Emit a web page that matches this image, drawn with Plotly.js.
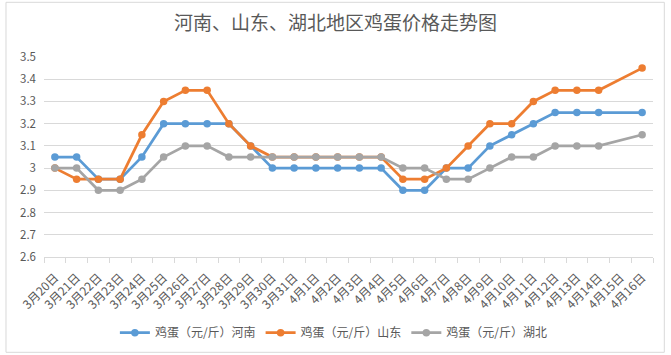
<!DOCTYPE html>
<html>
<head>
<meta charset="utf-8">
<script src="https://cdn.plot.ly/plotly-3.0.1.min.js"></script>
<style>html,body{margin:0;padding:0;background:#fff;}#chart{width:671px;height:355px;}</style>
</head>
<body>
<div id="chart"></div>
<script>
const dates = ["3月20日","3月21日","3月22日","3月23日","3月24日","3月25日","3月26日","3月27日","3月28日","3月29日","3月30日","3月31日","4月1日","4月2日","4月3日","4月4日","4月5日","4月6日","4月7日","4月8日","4月9日","4月10日","4月11日","4月12日","4月13日","4月14日","4月15日","4月16日"];
const henan = [3.05,3.05,2.95,2.95,3.05,3.2,3.2,3.2,3.2,3.1,3.0,3.0,3.0,3.0,3.0,3.0,2.9,2.9,3.0,3.0,3.1,3.15,3.2,3.25,3.25,3.25,null,3.25];
const shandong = [3.0,2.95,2.95,2.95,3.15,3.3,3.35,3.35,3.2,3.1,3.05,3.05,3.05,3.05,3.05,3.05,2.95,2.95,3.0,3.1,3.2,3.2,3.3,3.35,3.35,3.35,null,3.45];
const hubei = [3.0,3.0,2.9,2.9,2.95,3.05,3.1,3.1,3.05,3.05,3.05,3.05,3.05,3.05,3.05,3.05,3.0,3.0,2.95,2.95,3.0,3.05,3.05,3.1,3.1,3.1,null,3.15];
const seriesNames = ["鸡蛋（元/斤）河南","鸡蛋（元/斤）山东","鸡蛋（元/斤）湖北"];
const colors = ["#5B9BD5","#ED7D31","#A5A5A5"];
const values = [henan, shandong, hubei];

const font = '"Noto Sans CJK SC", "Noto Sans", sans-serif';
const traces = values.map((v,i)=>({
  type:'scatter', mode:'lines+markers', x:dates, y:v, name:seriesNames[i],
  connectgaps:true,
  line:{color:colors[i], width:2.75},
  marker:{color:colors[i], size:7.5}
}));

const layout = {
  width:671, height:355,
  margin:{l:44, r:18.3, t:56.7, b:98.3},
  paper_bgcolor:'#fff', plot_bgcolor:'#fff',
  font:{family:font, color:'#595959', size:11},
  title:{text:'河南、山东、湖北地区鸡蛋价格走势图', font:{family:font, size:19, color:'#595959'}, x:0.5, xanchor:'center', y:0.935, yanchor:'middle'},
  xaxis:{type:'category', range:[-0.5,27.5], tickangle:-45, ticks:'outside', tickson:'boundaries', ticklen:5, tickcolor:'#d9d9d9',
    ticklabelstandoff:8, automargin:false,
    showline:true, linecolor:'#d9d9d9', linewidth:1, showgrid:false, zeroline:false, fixedrange:true, tickfont:{size:12, color:'#595959'}},
  yaxis:{range:[2.6,3.5], dtick:0.1, tick0:2.6, showgrid:true, gridcolor:'#d9d9d9', gridwidth:1, zeroline:false, showline:false,
    automargin:false, ticks:'', ticklabelstandoff:7, tickfont:{size:11.5, color:'#595959'}, fixedrange:true},
  showlegend:true,
  legend:{orientation:'h', x:0.476, xanchor:'center', yref:'container', y:0.063, yanchor:'middle', font:{size:12, color:'#595959'}, traceorder:'normal', itemwidth:30, tracegroupgap:0},
  shapes:[{type:'rect', xref:'paper', yref:'paper', x0:-0.0624, x1:1.0186, y0:-0.4765, y1:1.2735, line:{color:'#d9d9d9', width:1}, fillcolor:'rgba(0,0,0,0)', layer:'below'}]
};
Plotly.newPlot('chart', traces, layout, {displayModeBar:false, staticPlot:true});
</script>
</body>
</html>
